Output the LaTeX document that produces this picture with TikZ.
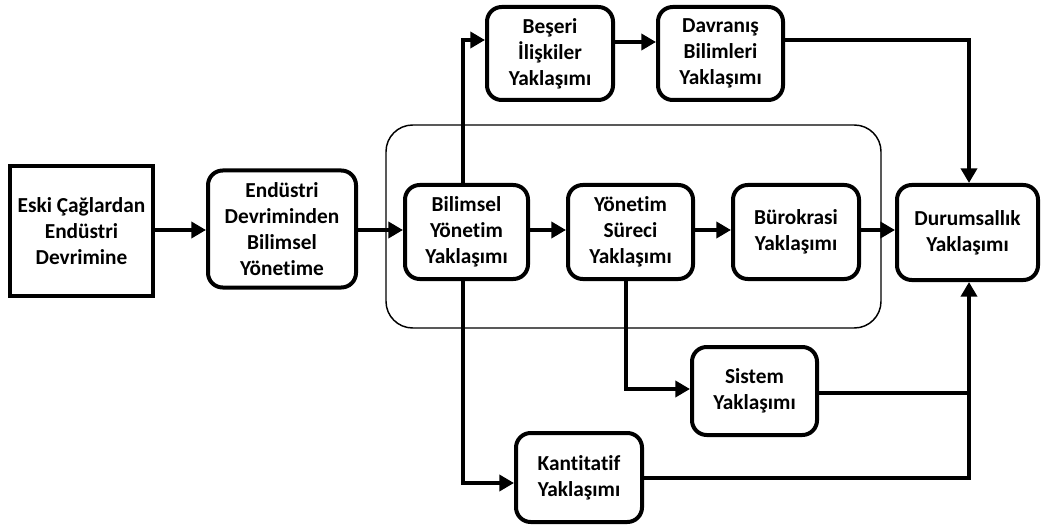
\documentclass[tikz,border=0pt]{standalone}
\usepackage{fontspec}
\setmainfont[Ligatures=NoCommon]{Carlito}
\usetikzlibrary{arrows.meta,calc}
\tikzset{
  box/.style={draw, line width=3pt, rounded corners=11pt, align=center, inner sep=0pt,
    font=\fontsize{16}{19.5}\selectfont\bfseries},
  sqbox/.style={box, rounded corners=0pt},
  conn/.style={line width=3pt},
  arr/.style={conn, -{Triangle[length=11pt,width=12pt]}},
  grpbox/.style={draw, line width=1.1pt, rounded corners=20pt}
}
\begin{document}
\begin{tikzpicture}[x=0.75pt,y=-0.75pt]
\useasboundingbox (0,0) rectangle (1041,527);
\node[grpbox, minimum width=495*0.75pt, minimum height=203*0.75pt] (grp) at (633.5,226.5) {};
\node[sqbox, minimum width=143*0.75pt, minimum height=129*0.75pt] (eski) at (81.5,231) {Eski Çağlardan\\Endüstri\\Devrimine};
\node[box, minimum width=148*0.75pt, minimum height=117*0.75pt] (endu) at (282,229) {Endüstri\\Devriminden\\Bilimsel\\Yönetime};
\node[box, minimum width=123*0.75pt, minimum height=94*0.75pt] (bil) at (466.5,232) {Bilimsel\\Yönetim\\Yaklaşımı};
\node[box, minimum width=125*0.75pt, minimum height=94*0.75pt] (yon) at (630.5,232) {Yönetim\\Süreci\\Yaklaşımı};
\node[box, minimum width=126*0.75pt, minimum height=94*0.75pt] (bur) at (796,232) {Bürokrasi\\Yaklaşımı};
\node[box, minimum width=141*0.75pt, minimum height=95*0.75pt] (dur) at (967.5,232.5) {Durumsallık\\Yaklaşımı};
\node[box, minimum width=126*0.75pt, minimum height=93*0.75pt] (bes) at (550,53.5) {Beşeri\\İlişkiler\\Yaklaşımı};
\node[box, minimum width=125*0.75pt, minimum height=93*0.75pt] (dav) at (720.5,53.5) {Davranış\\Bilimleri\\Yaklaşımı};
\node[box, minimum width=125*0.75pt, minimum height=88*0.75pt] (sis) at (754.5,391) {Sistem\\Yaklaşımı};
\node[box, minimum width=126*0.75pt, minimum height=89*0.75pt] (kan) at (579,477.5) {Kantitatif\\Yaklaşımı};

\coordinate (sisout) at ($(sis.east)+(0,2)$);
\coordinate (durbot) at ($(dur.south)+(1.5,0)$);

\draw[arr] (eski.east |- 0,230) -- (endu.west |- 0,230);
\draw[arr] (endu.east |- 0,230) -- (bil.west |- 0,230);
\draw[arr] (bil.east |- 0,230) -- (yon.west |- 0,230);
\draw[arr] (yon.east |- 0,230) -- (bur.west |- 0,230);
\draw[arr] (bur.east |- 0,230) -- (dur.west |- 0,230);
\draw[arr] ($(bil.north)+(-3.5,0)$) |- ($(bes.west)+(0,-13.5)$);
\draw[arr] ($(bes.east)+(0,-11.5)$) -- ($(dav.west)+(0,-11.5)$);
\draw[arr] ($(dav.east)+(0,-13.5)$) -| ($(dur.north)+(1.5,0)$);
\draw[arr] ($(bil.south)+(-3.5,0)$) |- ($(kan.west)+(0,5.5)$);
\draw[arr] ($(yon.south)+(-5,0)$) |- ($(sis.west)+(0,-2)$);
\draw[arr] ($(kan.east)+(0,0.5)$) -| (durbot);
\draw[conn, line width=2.4pt] (sisout) -- (sisout -| durbot);
\end{tikzpicture}
\end{document}
